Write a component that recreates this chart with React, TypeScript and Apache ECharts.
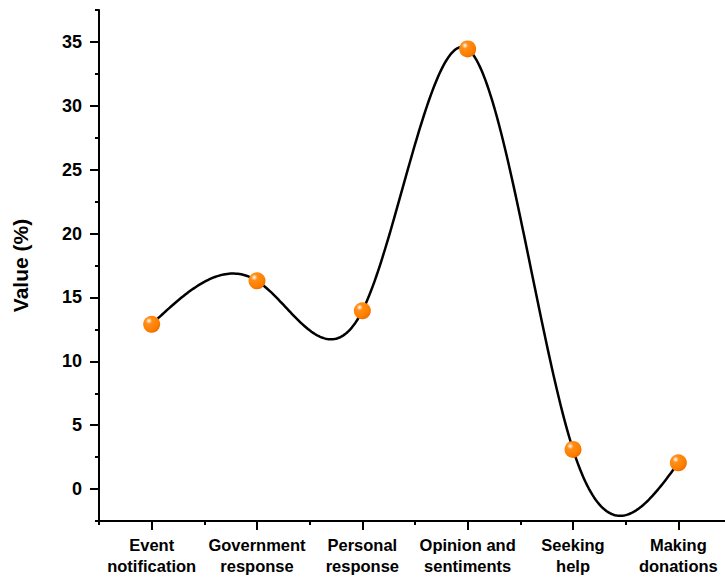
import React, { useEffect, useRef } from "react";
import * as echarts from "echarts";

const categories = [
  "Event\nnotification",
  "Government\nresponse",
  "Personal\nresponse",
  "Opinion and\nsentiments",
  "Seeking\nhelp",
  "Making\ndonations",
];
const values = [12.9, 16.3, 13.95, 34.45, 3.1, 2.05];
const majorTicks = [0, 5, 10, 15, 20, 25, 30, 35];
const yMin = -2.5;
const yMax = 37.5;

const FONT = "'Liberation Sans', Arial, sans-serif";

function naturalSpline(xs: number[], ys: number[], samples: number): number[][] {
  const n = xs.length;
  const h: number[] = [];
  for (let i = 0; i < n - 1; i++) h[i] = xs[i + 1] - xs[i];
  const alpha: number[] = [0];
  for (let i = 1; i < n - 1; i++) {
    alpha[i] = (3 / h[i]) * (ys[i + 1] - ys[i]) - (3 / h[i - 1]) * (ys[i] - ys[i - 1]);
  }
  const l: number[] = [1];
  const mu: number[] = [0];
  const z: number[] = [0];
  for (let i = 1; i < n - 1; i++) {
    l[i] = 2 * (xs[i + 1] - xs[i - 1]) - h[i - 1] * mu[i - 1];
    mu[i] = h[i] / l[i];
    z[i] = (alpha[i] - h[i - 1] * z[i - 1]) / l[i];
  }
  l[n - 1] = 1;
  z[n - 1] = 0;
  const c: number[] = new Array(n).fill(0);
  const b: number[] = [];
  const d: number[] = [];
  for (let j = n - 2; j >= 0; j--) {
    c[j] = z[j] - mu[j] * c[j + 1];
    b[j] = (ys[j + 1] - ys[j]) / h[j] - (h[j] * (c[j + 1] + 2 * c[j])) / 3;
    d[j] = (c[j + 1] - c[j]) / (3 * h[j]);
  }
  const pts: number[][] = [];
  for (let j = 0; j < n - 1; j++) {
    for (let k = 0; k <= samples; k++) {
      if (j > 0 && k === 0) continue;
      const t = (h[j] * k) / samples;
      pts.push([xs[j] + t, ys[j] + b[j] * t + c[j] * t * t + d[j] * t * t * t]);
    }
  }
  return pts;
}

export default function App() {
  const ref = useRef<HTMLDivElement>(null);
  useEffect(() => {
    if (!ref.current) return;
    const chart = echarts.init(ref.current, undefined, { renderer: "svg" });
    const labelStyle = {
      color: "#000",
      fontWeight: "bold" as const,
      fontFamily: FONT,
    };
    chart.setOption({
      animation: false,
      backgroundColor: "#fff",
      grid: {
        left: 99,
        top: 10,
        width: 632,
        bottom: 56,
        containLabel: false,
        outerBoundsMode: "none",
      },
      xAxis: [
        {
          type: "category",
          data: categories,
          boundaryGap: true,
          position: "bottom",
          axisLine: { show: true, onZero: false, lineStyle: { color: "#000", width: 2 } },
          axisTick: { show: true, alignWithLabel: true, length: 9, lineStyle: { color: "#000", width: 2 } },
          axisLabel: { ...labelStyle, fontSize: 16.5, lineHeight: 21, margin: 13, interval: 0 },
          splitLine: { show: false },
        },
        {
          type: "category",
          data: categories,
          boundaryGap: true,
          position: "bottom",
          axisLine: { show: false, onZero: false },
          axisTick: { show: true, alignWithLabel: false, length: 4, lineStyle: { color: "#000", width: 2 } },
          axisLabel: { show: false },
          splitLine: { show: false },
        },
      ],
      yAxis: [
        {
          type: "value",
          min: yMin,
          max: yMax,
          position: "left",
          name: "Value (%)",
          nameLocation: "middle",
          nameGap: 68,
          nameTextStyle: { ...labelStyle, fontSize: 21 },
          axisLine: { show: true, onZero: false, lineStyle: { color: "#000", width: 2 } },
          axisTick: { show: true, length: 9, customValues: majorTicks, lineStyle: { color: "#000", width: 2 } },
          axisLabel: { ...labelStyle, fontSize: 18, margin: 17, customValues: majorTicks },
          splitLine: { show: false },
        },
        {
          type: "value",
          min: yMin,
          max: yMax,
          interval: 5,
          position: "left",
          offset: 0,
          axisLine: { show: false, onZero: false },
          axisTick: { show: true, length: 4, lineStyle: { color: "#000", width: 2 } },
          axisLabel: { show: false },
          splitLine: { show: false },
        },
      ],
      series: [
        {
          type: "custom",
          xAxisIndex: 0,
          yAxisIndex: 0,
          data: [[0, values[0]]],
          z: 2,
          silent: true,
          renderItem: (_params: any, api: any) => {
            const pts = values.map((v, i) => api.coord([i, v]));
            const curve = naturalSpline(
              pts.map((p: number[]) => p[0]),
              pts.map((p: number[]) => p[1]),
              60
            );
            return {
              type: "polyline",
              shape: { points: curve },
              style: { stroke: "#000", lineWidth: 2.5, fill: null, lineJoin: "round" },
            };
          },
        },
        {
          type: "scatter",
          xAxisIndex: 0,
          yAxisIndex: 0,
          data: values,
          z: 5,
          symbol: "circle",
          symbolSize: 17,
          itemStyle: {
            opacity: 1,
            color: {
              type: "radial",
              x: 0.34,
              y: 0.3,
              r: 0.72,
              colorStops: [
                { offset: 0, color: "#ffffff" },
                { offset: 0.1, color: "#ffd3a6" },
                { offset: 0.26, color: "#ff8e18" },
                { offset: 0.75, color: "#ff7f00" },
                { offset: 1, color: "#ef7000" },
              ],
            },
          },
        },
      ],
    });
    return () => chart.dispose();
  }, []);
  return (
    <div
      ref={ref}
      style={{ position: "fixed", left: 0, top: 0, width: 725, height: 577, background: "#fff" }}
    />
  );
}
